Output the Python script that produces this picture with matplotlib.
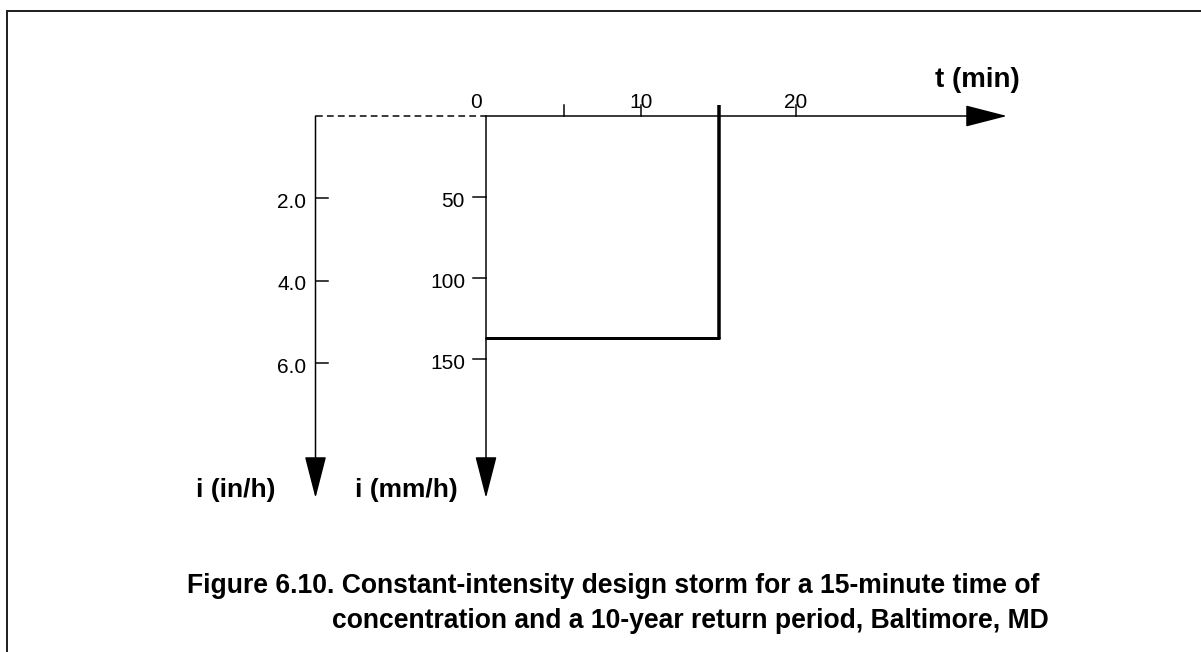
import matplotlib
matplotlib.use("Agg")
import matplotlib.pyplot as plt
from matplotlib.lines import Line2D

# ---------------- data ----------------
time_ticks = [5, 10, 15, 20]          # minutes (tick marks on t axis)
time_label_vals = [0, 10, 20]
time_labels = ["0", "10", "20"]
mm_ticks = [50, 100, 150]             # mm/h
mm_labels = ["50", "100", "150"]
in_ticks = [2.0, 4.0, 6.0]            # in/h
in_labels = ["2.0", "4.0", "6.0"]
duration = 15                          # min (time of concentration)
intensity = 137                        # mm/h (10-yr design intensity)
MM_PER_IN = 25.4

caption1 = "Figure 6.10. Constant-intensity design storm for a 15-minute time of"
caption2 = "concentration and a 10-year return period, Baltimore, MD"

# ---------------- layout ----------------
W, H, DPI = 1201, 652, 100
X0_PX, PX_PER_MIN = 486, 15.5
Y0_PX, PX_PER_MM = 116, 1.621
PT = 72 / DPI                                   # points per pixel

in_axis_t = -11.0                                # position of in/h axis (min)
t_tip = (1007 - X0_PX) / PX_PER_MIN              # arrow tip of t axis
y_tip = (498 - Y0_PX) / PX_PER_MM                # arrow tip of i axes

fig = plt.figure(figsize=(W / DPI, H / DPI), dpi=DPI)
ax = fig.add_axes([0, 0, 1, 1])
ax.set_xlim(-X0_PX / PX_PER_MIN, (W - X0_PX) / PX_PER_MIN)
ax.set_ylim((H - Y0_PX) / PX_PER_MM, -Y0_PX / PX_PER_MM)
ax.axis("off")

FONT = "Liberation Sans"
TICK_FS = 15
LW = 1.5 * PT
arrow_style = "-|>,head_length=%.2f,head_width=%.2f" % (37 * PT, 9.5 * PT)
aprops = dict(arrowstyle=arrow_style, mutation_scale=1, lw=LW, color="black",
              shrinkA=0, shrinkB=0)

# axes with arrows
ax.annotate("", xy=(t_tip, 0), xytext=(0, 0), arrowprops=aprops)
ax.annotate("", xy=(0, y_tip), xytext=(0, 0), arrowprops=aprops)
ax.annotate("", xy=(in_axis_t, y_tip), xytext=(in_axis_t, 0), arrowprops=aprops)
# dashed connector
ax.plot([in_axis_t, 0], [0, 0], color="black", lw=LW, ls=(0, (4.5, 2.8)))

# time ticks (upward)
tick_up = 11 / PX_PER_MM
for t in time_ticks:
    if t == duration:
        continue
    ax.plot([t, t], [0, -tick_up], color="black", lw=LW)
for v, lab in zip(time_label_vals, time_labels):
    dx = -10 if v == 0 else 0
    ax.annotate(lab, xy=(v, 0), xytext=(dx * PT, 14 * PT), textcoords="offset points",
                ha="center", va="center", fontsize=TICK_FS, family=FONT)

# mm/h ticks (to the left)
tl = 13 / PX_PER_MIN
for v, lab in zip(mm_ticks, mm_labels):
    ax.plot([-tl, 0], [v, v], color="black", lw=LW)
    ax.annotate(lab, xy=(0, v), xytext=(-21 * PT, -4 * PT), textcoords="offset points",
                ha="right", va="center", fontsize=TICK_FS, family=FONT)

# in/h ticks (to the right)
tl2 = 12 / PX_PER_MIN
for v, lab in zip(in_ticks, in_labels):
    y = v * MM_PER_IN
    ax.plot([in_axis_t, in_axis_t + tl2], [y, y], color="black", lw=LW)
    ax.annotate(lab, xy=(in_axis_t, y), xytext=(-9 * PT, -4 * PT), textcoords="offset points",
                ha="right", va="center", fontsize=TICK_FS, family=FONT)

# design storm hyetograph
ax.plot([duration, duration], [-tick_up, intensity], color="black", lw=3.5 * PT,
        solid_capstyle="butt")
ax.plot([0, duration], [intensity, intensity], color="black", lw=3 * PT,
        solid_capstyle="round")

# axis labels
ax.annotate("t (min)", xy=(t_tip, 0), xytext=(-72 * PT, 36 * PT), textcoords="offset points",
            ha="left", va="center", fontsize=20, weight="bold", family=FONT)
ax.annotate("i (in/h)", xy=(in_axis_t, y_tip), xytext=(-119 * PT, 8 * PT),
            textcoords="offset points", ha="left", va="center", fontsize=19,
            weight="bold", family=FONT)
ax.annotate("i (mm/h)", xy=(0, y_tip), xytext=(-131 * PT, 8 * PT),
            textcoords="offset points", ha="left", va="center", fontsize=19,
            weight="bold", family=FONT)

# caption
fig.text(187 / W, 1 - 593 / H, caption1, ha="left", va="baseline", fontsize=19.1,
         weight="bold", family=FONT)
fig.text(332 / W, 1 - 628 / H, caption2, ha="left", va="baseline", fontsize=19.1,
         weight="bold", family=FONT)

# page frame (top and left edges)
fig.add_artist(Line2D([7 / W, 1], [1 - 11 / H, 1 - 11 / H], transform=fig.transFigure,
                      color="#222222", lw=2 * PT))
fig.add_artist(Line2D([7 / W, 7 / W], [1 - 11 / H, 0], transform=fig.transFigure,
                      color="#222222", lw=2 * PT))

fig.savefig("out.png", dpi=DPI, facecolor="white")
